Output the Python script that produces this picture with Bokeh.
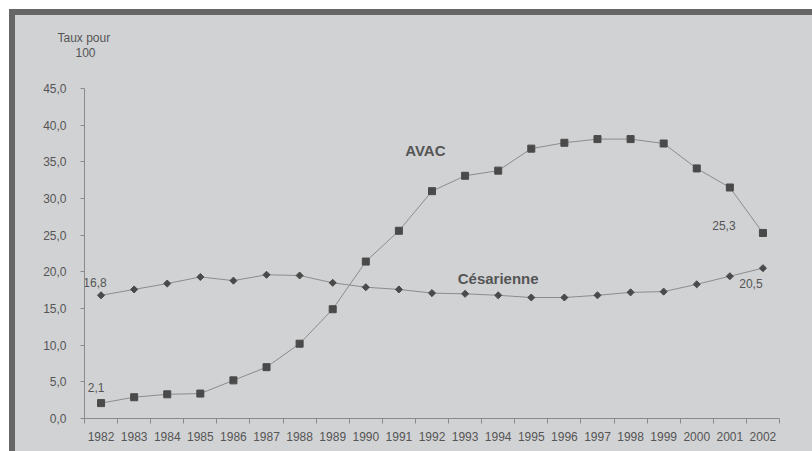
from bokeh.plotting import figure
from bokeh.models import (Range1d, FixedTicker, CustomJSTickFormatter, Label, Title,
                          ColumnDataSource)
from bokeh.core.properties import value
from bokeh.embed import file_html
from bokeh.resources import INLINE

years = [1982, 1983, 1984, 1985, 1986, 1987, 1988, 1989, 1990, 1991, 1992,
         1993, 1994, 1995, 1996, 1997, 1998, 1999, 2000, 2001, 2002]
avac = [2.1, 2.9, 3.3, 3.4, 5.2, 7.0, 10.2, 14.9, 21.4, 25.6, 31.0,
        33.1, 33.8, 36.8, 37.6, 38.1, 38.1, 37.5, 34.1, 31.5, 25.3]
cesarienne = [16.8, 17.6, 18.4, 19.3, 18.8, 19.6, 19.5, 18.5, 17.9, 17.6, 17.1,
              17.0, 16.8, 16.5, 16.5, 16.8, 17.2, 17.3, 18.3, 19.4, 20.5]
y_ticks = [0, 5, 10, 15, 20, 25, 30, 35, 40, 45]
year_bounds = [y - 0.5 for y in years] + [years[-1] + 0.5]

# value labels shown on the chart
lab_x = [1982, 1982, 2002, 2002]
lab_y = [16.8, 2.1, 25.3, 20.5]
lab_text = ["16,8", "2,1", "25,3", "20,5"]
lab_dx = [-6, -5, -39, -12]
lab_dy = [-13, -16, -7, 15]

FONT = "Liberation Sans"
TXT = "#555555"
BG = "#d1d2d4"
FRAME = "#666666"

W, H = 803, 442
p = figure(width=W, height=H, output_backend="svg", toolbar_location=None,
           x_range=Range1d(years[0] - 0.5, years[-1] + 0.5),
           y_range=Range1d(0, 45),
           min_border_left=69, min_border_right=39,
           min_border_top=73, min_border_bottom=39)
p.styles = {"margin-left": "9px", "margin-top": "9px", "background-color": BG,
            "border-top": f"6px solid {FRAME}", "border-left": f"6px solid {FRAME}"}
p.background_fill_color = BG
p.border_fill_color = BG
p.outline_line_color = None
p.grid.visible = False

# axes
p.xaxis.ticker = FixedTicker(ticks=years, minor_ticks=year_bounds)
p.xaxis.major_tick_in = 0
p.xaxis.major_tick_out = 0
p.xaxis.minor_tick_in = 0
p.xaxis.minor_tick_out = 5
p.xaxis.minor_tick_line_color = "#8a8a8a"
p.xaxis.major_label_standoff = 8

p.yaxis.ticker = FixedTicker(ticks=y_ticks, minor_ticks=[])
p.yaxis.formatter = CustomJSTickFormatter(code="return tick.toFixed(1).replace('.', ',');")
p.yaxis.major_tick_in = 0
p.yaxis.major_tick_out = 4
p.yaxis.major_label_standoff = 14

for ax in (p.xaxis[0], p.yaxis[0]):
    ax.axis_line_color = "#8a8a8a"
    ax.major_tick_line_color = "#8a8a8a"
    ax.major_label_text_font = FONT
    ax.major_label_text_font_size = "12px"
    ax.major_label_text_color = TXT

src = ColumnDataSource(dict(year=years, avac=avac, ces=cesarienne))
p.line("year", "avac", source=src, line_color="#8c8c8c", line_width=1)
p.line("year", "ces", source=src, line_color="#8c8c8c", line_width=1)
p.scatter("year", "avac", source=src, marker="square", size=7,
          fill_color="#4a4a4a", line_color="#4a4a4a")
p.scatter("year", "ces", source=src, marker="square", size=5, angle=0.7853981634,
          fill_color="#4a4a4a", line_color="#4a4a4a")

lsrc = ColumnDataSource(dict(x=lab_x, y=lab_y, t=lab_text, dx=lab_dx, dy=lab_dy))
p.text("x", "y", text="t", source=lsrc, x_offset="dx", y_offset="dy",
       text_align="center", text_baseline="middle",
       text_font=value(FONT), text_font_size="12px", text_color=TXT)

p.add_layout(Label(x=1991.8, y=36.6, text="AVAC", text_align="center",
                   text_baseline="middle", text_font=FONT, text_font_size="15px",
                   text_font_style="bold", text_color=TXT))
p.add_layout(Label(x=1994.0, y=19.1, text="Césarienne", text_align="center",
                   text_baseline="middle", text_font=FONT, text_font_size="15px",
                   text_font_style="bold", text_color=TXT))

# unit caption above the y axis (an empty spacer panel first, next to the frame)
p.add_layout(Title(text=" ", align="left", standoff=15,
                   text_font=FONT, text_font_size="12px", text_font_style="normal",
                   text_color=BG), "above")
p.add_layout(Title(text="100", align="left", offset=-9, standoff=2,
                   text_font=FONT, text_font_size="12px", text_font_style="normal",
                   text_color=TXT), "above")
p.add_layout(Title(text="Taux pour", align="left", offset=-27, standoff=0,
                   text_font=FONT, text_font_size="12px", text_font_style="normal",
                   text_color=TXT), "above")

open("out.html", "w").write(file_html(p, INLINE))
